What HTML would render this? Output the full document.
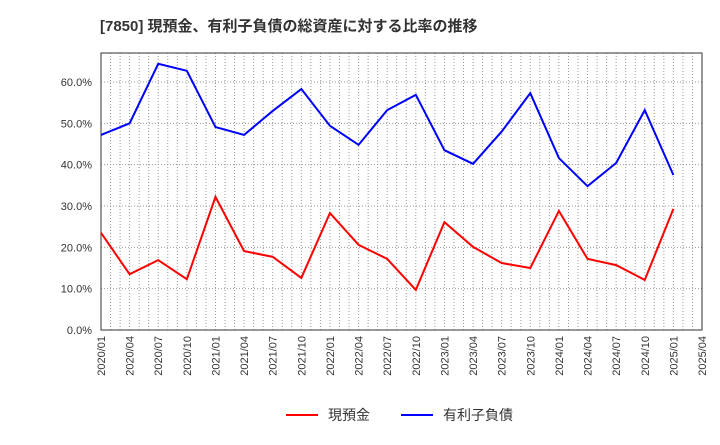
<!DOCTYPE html>
<html><head><meta charset="utf-8"><style>
body{margin:0;background:#fff;font-family:"Liberation Sans","Noto Sans CJK JP",sans-serif}
svg text{font-family:"Liberation Sans","Noto Sans CJK JP",sans-serif}
</style></head><body>
<svg id="c" width="720" height="440">
<text x="100" y="31" font-size="15" font-weight="bold" fill="#333">[7850]  現預金、有利子負債の総資産に対する比率の推移</text>
</svg>
<script>
const categories=["2020/01","2020/04","2020/07","2020/10","2021/01","2021/04","2021/07","2021/10","2022/01","2022/04","2022/07","2022/10","2023/01","2023/04","2023/07","2023/10","2024/01","2024/04","2024/07","2024/10","2025/01","2025/04"];
const cashValues=[23.5,13.5,16.9,12.3,32.2,19.1,17.7,12.6,28.3,20.6,17.2,9.7,26.1,20.1,16.2,15.0,28.8,17.2,15.7,12.1,29.3];
const debtValues=[47.2,50.0,64.4,62.7,49.1,47.2,53.0,58.3,49.4,44.8,53.2,56.9,43.5,40.2,48.0,57.3,41.6,34.8,40.4,53.2,37.5];
const yTicks=[0,10,20,30,40,50,60];
const yTickLabels=["0.0%","10.0%","20.0%","30.0%","40.0%","50.0%","60.0%"];
const NS="http://www.w3.org/2000/svg",svg=document.getElementById('c');
const L=101,R=702,T=53,B=330,months=63;
const xs=m=>L+m*(R-L)/months, ys=v=>B-v*(B-82)/60;
function mk(t,a,p){const e=document.createElementNS(NS,t);for(const k in a)e.setAttribute(k,a[k]);(p||svg).appendChild(e);return e;}
for(let m=0;m<=months;m++){const g=mk('line',{x1:xs(m),x2:xs(m),y1:T,y2:B,stroke:'#999','stroke-dasharray':'1,2','stroke-width':1});

}
yTicks.forEach((v,i)=>{const g=mk('line',{x1:L,x2:R,y1:ys(v),y2:ys(v),stroke:'#999','stroke-dasharray':'1,2'});


const t=mk('text',{x:92,y:ys(v)+4,'text-anchor':'end','font-size':11,fill:'#333'});t.textContent=yTickLabels[i];

});
categories.forEach((c,i)=>{const x=xs(i*3);const t=mk('text',{x:x+4,y:336,'text-anchor':'end','font-size':11,fill:'#333',transform:`rotate(-90 ${x+4} 336)`});t.textContent=c;

});
const frame=mk('rect',{x:L,y:T,width:R-L,height:B-T,fill:'none',stroke:'#333'});


function line(vals,col,name){const p=mk('polyline',{points:vals.map((v,i)=>xs(i*3)+','+ys(v)).join(' '),fill:'none',stroke:col,'stroke-width':2});

}
line(cashValues,'#f00','cash-line');
line(debtValues,'#00f','debt-line');
const lg=mk('g',{});


mk('line',{x1:286,x2:318,y1:415,y2:415,stroke:'#f00','stroke-width':2},lg);
const t1=mk('text',{x:328,y:420,'font-size':14,fill:'#333'},lg);t1.textContent='現預金';


mk('line',{x1:401,x2:433,y1:415,y2:415,stroke:'#00f','stroke-width':2},lg);
const t2=mk('text',{x:443,y:420,'font-size':14,fill:'#333'},lg);t2.textContent='有利子負債';


</script>
</body></html>
